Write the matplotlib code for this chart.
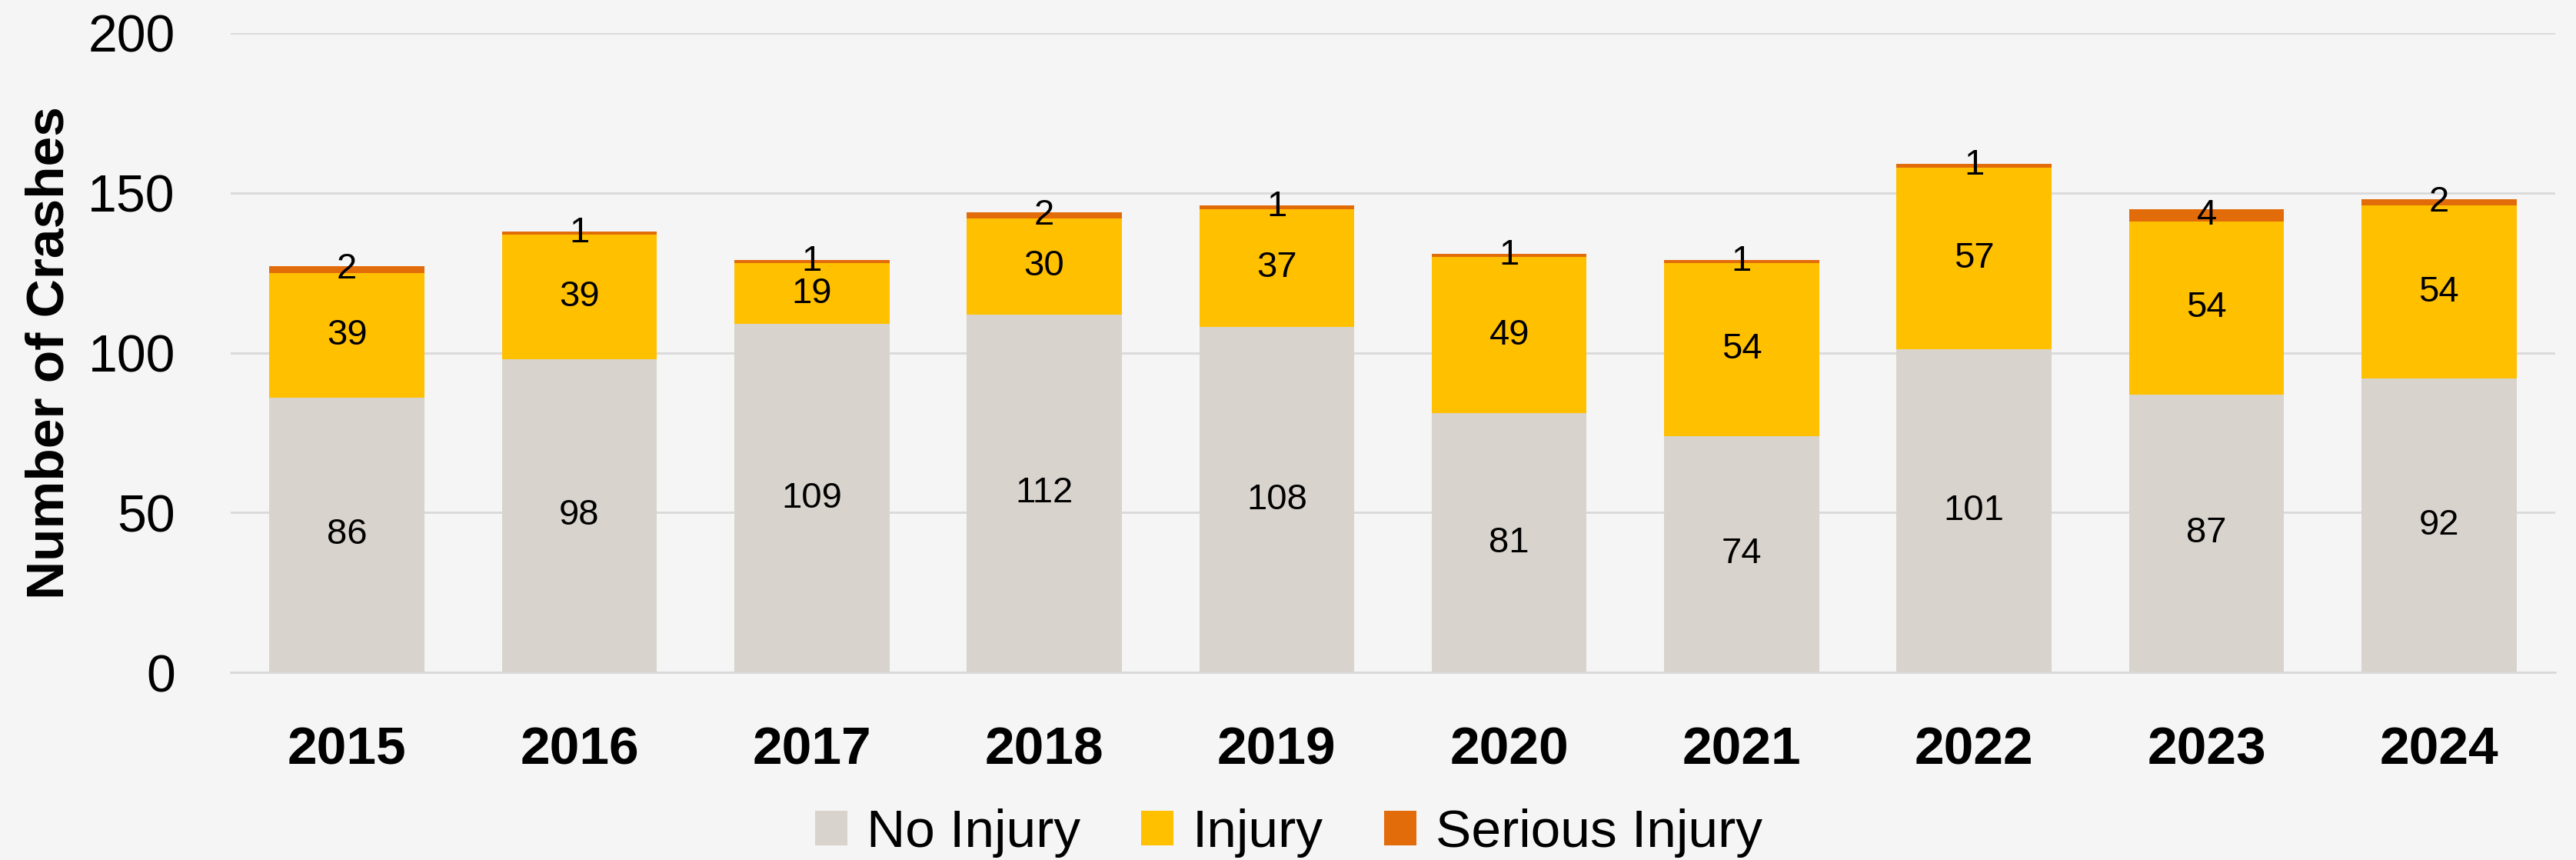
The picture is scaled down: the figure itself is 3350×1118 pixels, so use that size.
import matplotlib
matplotlib.use("Agg")
import matplotlib.pyplot as plt
import numpy as np

years = ["2015", "2016", "2017", "2018", "2019", "2020", "2021", "2022", "2023", "2024"]
no_injury = [86, 98, 109, 112, 108, 81, 74, 101, 87, 92]
injury = [39, 39, 19, 30, 37, 49, 54, 57, 54, 54]
serious_injury = [2, 1, 1, 2, 1, 1, 1, 1, 4, 2]
series_names = ["No Injury", "Injury", "Serious Injury"]
series_colors = ["#D8D3CC", "#FFC000", "#E36C0A"]
yticks = [0, 50, 100, 150, 200]

plt.rcParams['font.family'] = ['Liberation Sans', 'DejaVu Sans']
bg = "#F5F5F5"
W, H, DPI = 3350, 1118, 100
fig = plt.figure(figsize=(W / DPI, H / DPI), dpi=DPI, facecolor=bg)
ax = fig.add_axes([300 / W, (H - 874) / H, 3023 / W, (874 - 43) / H], facecolor=bg)

x = np.arange(len(years))
bottom = np.zeros(len(years))
for vals, name, col in zip([no_injury, injury, serious_injury], series_names, series_colors):
    v = np.array(vals, dtype=float)
    ax.bar(x, v, width=0.667, bottom=bottom, color=col, label=name, zorder=3)
    for xi, b, vi in zip(x, bottom, v):
        ax.text(xi, b + vi / 2, str(int(vi)), ha="center", va="center",
                fontsize=34, color="black", zorder=5)
    bottom += v

ax.set_xlim(-0.5, len(years) - 0.5)
ax.set_ylim(0, 200)
ax.set_yticks(yticks)
ax.set_yticklabels([str(t) for t in yticks], fontsize=49)
ax.set_xticks(x)
ax.set_xticklabels(years, fontsize=50, fontweight="bold")
ax.tick_params(axis="y", length=0, pad=52)
ax.tick_params(axis="x", length=0, pad=50)
ax.yaxis.grid(True, color="#D9D9D9", linewidth=2, zorder=0)
ax.set_axisbelow(True)
for s in ["top", "right", "left"]:
    ax.spines[s].set_visible(False)
ax.spines["bottom"].set_color("#D9D9D9")
ax.spines["bottom"].set_linewidth(2)
ax.spines["bottom"].set_zorder(4)

ax.set_ylabel("Number of Crashes", fontsize=50, fontweight="bold")
ax.yaxis.set_label_coords(-(300 - 97) / 3023, 0.5)

fig.legend(loc="center", bbox_to_anchor=(0.5003, 35 / H), ncol=3, frameon=False,
           fontsize=50, handlelength=0.6, handleheight=0.6, handletextpad=0.36,
           columnspacing=1.14, borderaxespad=0)

fig.savefig("out.png", dpi=DPI, facecolor=bg)
